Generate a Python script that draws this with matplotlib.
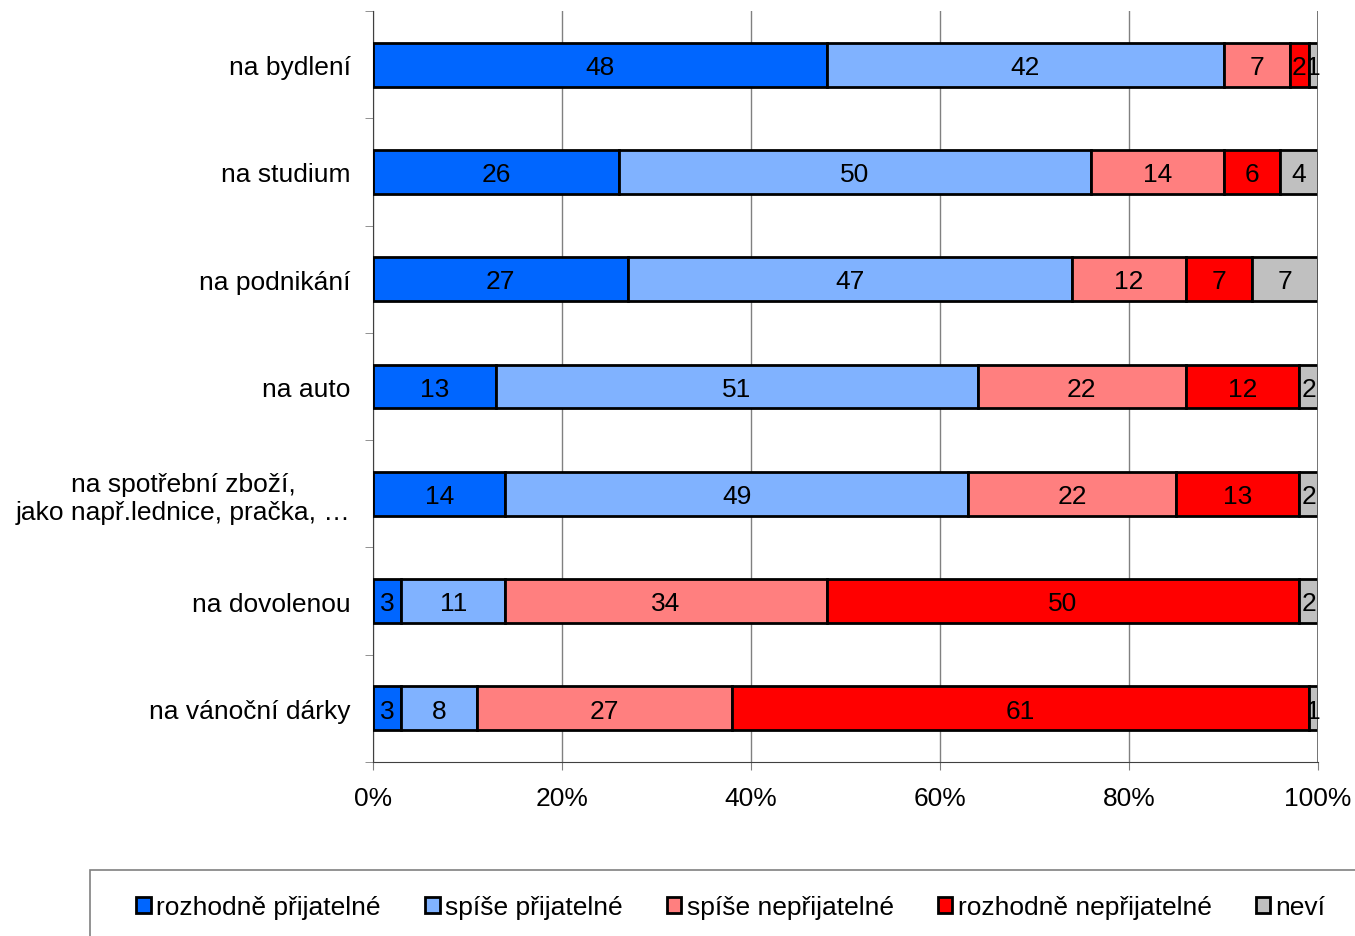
import matplotlib.pyplot as plt
import numpy as np
from matplotlib.patches import Rectangle

plt.rcParams["font.family"] = ["Liberation Sans", "DejaVu Sans"]

categories = [
    "na bydlení",
    "na studium",
    "na podnikání",
    "na auto",
    "na spotřební zboží,\njako např.lednice, pračka, …",
    "na dovolenou",
    "na vánoční dárky",
]
series_names = [
    "rozhodně přijatelné",
    "spíše přijatelné",
    "spíše nepřijatelné",
    "rozhodně nepřijatelné",
    "neví",
]
rozhodne_prijatelne = [48, 26, 27, 13, 14, 3, 3]
spise_prijatelne = [42, 50, 47, 51, 49, 11, 8]
spise_neprijatelne = [7, 14, 12, 22, 22, 34, 27]
rozhodne_neprijatelne = [2, 6, 7, 12, 13, 50, 61]
nevi = [1, 4, 7, 2, 2, 2, 1]
colors = ["#0066FF", "#80B2FF", "#FF7F7F", "#FF0000", "#C0C0C0"]
xtick_labels = ["0%", "20%", "40%", "60%", "80%", "100%"]

series = [rozhodne_prijatelne, spise_prijatelne, spise_neprijatelne,
          rozhodne_neprijatelne, nevi]

fig = plt.figure(figsize=(13.55, 9.37), dpi=100)
ax = fig.add_axes([373 / 1355, 1 - 763 / 937, 945 / 1355, 751 / 937])

y = np.arange(len(categories))
left = np.zeros(len(categories))
handles = []
for vals, name, col in zip(series, series_names, colors):
    vals = np.array(vals, dtype=float)
    bars = ax.barh(y, vals, left=left, height=0.41, color=col,
                   edgecolor="black", linewidth=2, label=name, zorder=3)
    for yi, l, v in zip(y, left, vals):
        ax.text(l + v / 2, yi + 0.02, f"{int(v)}", ha="center", va="center",
                fontsize=19, zorder=6, clip_on=False)
    left += vals
    handles.append(bars)

ax.set_ylim(len(categories) - 0.5, -0.5)
ax.set_xlim(0, 100)
ax.set_yticks(y)
ax.set_yticklabels(categories, fontsize=19, multialignment="center")
ax.set_yticks(np.arange(-0.5, len(categories)), minor=True)
ax.tick_params(axis="y", which="major", length=0, pad=16)
ax.tick_params(axis="y", which="minor", length=6, color="#808080")
ax.set_xticks(np.arange(0, 101, 20))
ax.set_xticklabels(xtick_labels, fontsize=19)
ax.tick_params(axis="x", length=6, color="#808080", pad=11)
ax.grid(axis="x", color="#808080", linewidth=1, zorder=0)
ax.axvline(100, color="#606060", linewidth=1.2, zorder=5)
ax.spines["top"].set_visible(False)
ax.spines["right"].set_visible(False)
ax.spines["left"].set_color("#404040")
ax.spines["bottom"].set_color("#404040")

# legend frame runs off the figure edge
fig.patches.append(Rectangle((90 / 1355, -0.1), 1.0, 0.1 + 1 - 871 / 937,
                             transform=fig.transFigure, fill=False,
                             edgecolor="#808080", linewidth=1.2))
leg = fig.legend(handles=handles, loc="center",
                 bbox_to_anchor=(0.5395, 1 - 908 / 937), ncol=5,
                 frameon=False, fontsize=19, handlelength=0.55,
                 handleheight=0.55, handletextpad=0.2, columnspacing=1.68)

fig.savefig("out.png", dpi=100)
